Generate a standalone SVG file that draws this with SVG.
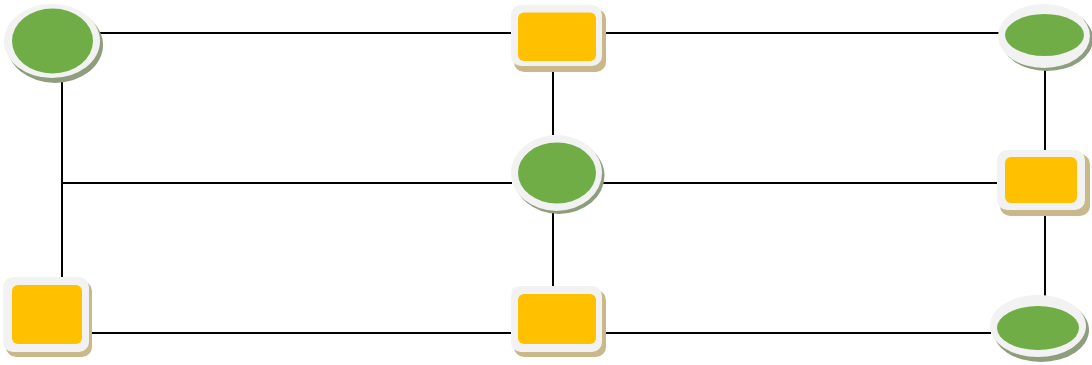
<svg xmlns="http://www.w3.org/2000/svg" width="1092" height="365" viewBox="0 0 1092 365">
<style>
.ln{stroke:#000;stroke-width:2;fill:none}
.es{fill:#8E9E7C}
.rs{fill:#C8B88A}
.ow{fill:#F2F2F2}
.g{fill:#70AD47}
.y{fill:#FFC000}
</style>
<rect width="1092" height="365" fill="#fff"/>
<g id="connectors">
<line class="ln" x1="100" y1="33" x2="511" y2="33"/>
<line class="ln" x1="602" y1="33" x2="999" y2="33"/>
<line class="ln" x1="62" y1="80" x2="62" y2="278"/>
<line class="ln" x1="62" y1="183" x2="512" y2="183"/>
<line class="ln" x1="601" y1="183" x2="998" y2="183"/>
<line class="ln" x1="553" y1="68" x2="553" y2="135"/>
<line class="ln" x1="553" y1="209" x2="553" y2="287"/>
<line class="ln" x1="1045" y1="68" x2="1045" y2="151"/>
<line class="ln" x1="1045" y1="210" x2="1045" y2="296"/>
<line class="ln" x1="89" y1="333" x2="511" y2="333"/>
<line class="ln" x1="602" y1="333" x2="991" y2="333"/>
</g>
<g id="n1">
<ellipse class="es" cx="55" cy="45" rx="48" ry="38"/>
<ellipse class="ow" cx="52" cy="41" rx="48" ry="37"/>
<ellipse class="g" cx="52.5" cy="41" rx="40.5" ry="32.5"/>
</g>
<g id="n2">
<rect class="rs" x="514" y="9" width="92" height="63" rx="10"/>
<rect class="ow" x="511" y="5" width="91" height="61" rx="10"/>
<rect class="y" x="518" y="12.5" width="78" height="48.5" rx="6"/>
</g>
<g id="n3">
<ellipse class="es" cx="1047" cy="39" rx="46" ry="32"/>
<ellipse class="ow" cx="1044" cy="36" rx="46" ry="32"/>
<ellipse class="g" cx="1044.5" cy="35" rx="39.5" ry="21"/>
</g>
<g id="n4">
<ellipse class="es" cx="559" cy="176" rx="45.5" ry="38"/>
<ellipse class="ow" cx="556.5" cy="173" rx="45.5" ry="38"/>
<ellipse class="g" cx="557" cy="173" rx="39" ry="30.5"/>
</g>
<g id="n5">
<rect class="rs" x="1000" y="154" width="90" height="62" rx="10"/>
<rect class="ow" x="997" y="150" width="88" height="60" rx="10"/>
<rect class="y" x="1005" y="157" width="72" height="46" rx="6"/>
</g>
<g id="n6">
<rect class="rs" x="6" y="281" width="86" height="76" rx="10"/>
<rect class="ow" x="3" y="277" width="86" height="75" rx="10"/>
<rect class="y" x="12" y="285" width="70" height="59" rx="6"/>
</g>
<g id="n7">
<rect class="rs" x="514" y="290" width="92" height="67" rx="10"/>
<rect class="ow" x="511" y="286" width="91" height="66" rx="10"/>
<rect class="y" x="518" y="294" width="78" height="50" rx="6"/>
</g>
<g id="n8">
<ellipse class="es" cx="1041" cy="330" rx="48" ry="32"/>
<ellipse class="ow" cx="1038" cy="326" rx="48" ry="31"/>
<ellipse class="g" cx="1038" cy="328" rx="41" ry="22"/>
</g>
</svg>
